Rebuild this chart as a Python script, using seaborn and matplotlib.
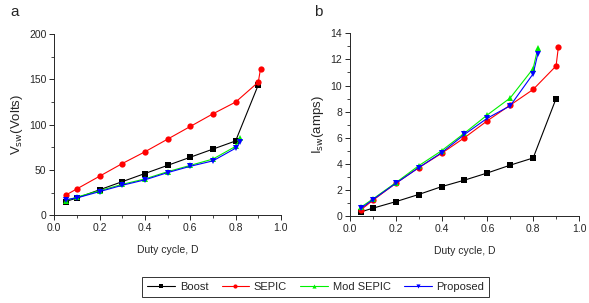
import pandas as pd
import matplotlib.pyplot as plt
import seaborn as sns
from matplotlib.ticker import MultipleLocator

# duty cycle points for each converter
duty_boost = [0.05, 0.1, 0.2, 0.3, 0.4, 0.5, 0.6, 0.7, 0.8, 0.9]
duty_sepic = [0.05, 0.1, 0.2, 0.3, 0.4, 0.5, 0.6, 0.7, 0.8, 0.9, 0.91]
duty_mod = [0.05, 0.1, 0.2, 0.3, 0.4, 0.5, 0.6, 0.7, 0.8, 0.82]
duty_prop = [0.05, 0.1, 0.2, 0.3, 0.4, 0.5, 0.6, 0.7, 0.8, 0.82]

# switch voltage (V)
vsw_boost = [15, 19, 28, 37, 46, 55, 64, 73, 82, 144]
vsw_sepic = [22, 29, 43, 57, 70, 84, 98, 112, 125, 147, 162]
vsw_mod = [16, 20, 27, 34, 40, 48, 55, 62, 76, 85]
vsw_prop = [17, 19, 26, 33, 39, 47, 54, 60, 74, 81]

# switch current (A)
isw_boost = [0.33, 0.6, 1.1, 1.65, 2.25, 2.75, 3.3, 3.9, 4.45, 9.0]
isw_sepic = [0.5, 1.2, 2.5, 3.7, 4.8, 6.0, 7.3, 8.5, 9.7, 11.5, 12.95]
isw_mod = [0.7, 1.3, 2.55, 3.85, 5.0, 6.35, 7.75, 9.05, 11.3, 12.85]
isw_prop = [0.6, 1.25, 2.5, 3.7, 4.85, 6.25, 7.5, 8.45, 10.9, 12.4]

names = ["Boost", "SEPIC", "Mod SEPIC", "Proposed"]
colors = {"Boost": "black", "SEPIC": "#ff0000", "Mod SEPIC": "#00f000", "Proposed": "#0000ff"}
marks = {"Boost": "s", "SEPIC": "o", "Mod SEPIC": "^", "Proposed": "v"}

duties = [duty_boost, duty_sepic, duty_mod, duty_prop]
rows = []
for name, d, v, i in zip(names, duties,
                         [vsw_boost, vsw_sepic, vsw_mod, vsw_prop],
                         [isw_boost, isw_sepic, isw_mod, isw_prop]):
    for dd, vv, ii in zip(d, v, i):
        rows.append({"Converter": name, "D": dd, "Vsw": vv, "Isw": ii})
df = pd.DataFrame(rows)

sns.set_style("ticks")
plt.rcParams['font.family'] = ['Liberation Sans', 'DejaVu Sans']

fig = plt.figure(figsize=(5.89, 3.03), dpi=100)
ax1 = fig.add_axes([0.092, 0.29, 0.385, 0.597])
ax2 = fig.add_axes([0.594, 0.287, 0.389, 0.603])

for ax, col, ylab, ymax, ymaj, ymin in [
        (ax1, "Vsw", r"V$_{\rm sw}$(Volts)", 200, 50, 25),
        (ax2, "Isw", r"I$_{\rm sw}$(amps)", 14, 2, 1)]:
    sns.lineplot(data=df, x="D", y=col, hue="Converter", style="Converter",
                 hue_order=names, style_order=names, palette=colors,
                 markers=marks, dashes=False, estimator=None, sort=True,
                 linewidth=0.8, markersize=4.5, markeredgewidth=0,
                 ax=ax, legend=False)
    ax.set_xlim(0, 1.0)
    ax.set_ylim(0, ymax)
    ax.xaxis.set_major_locator(MultipleLocator(0.2))
    ax.xaxis.set_minor_locator(MultipleLocator(0.1))
    ax.yaxis.set_major_locator(MultipleLocator(ymaj))
    ax.yaxis.set_minor_locator(MultipleLocator(ymin))
    ax.tick_params(which="major", length=3.5, width=0.7, labelsize=7.5, pad=2)
    ax.tick_params(which="minor", length=2, width=0.6)
    ax.set_xlabel("Duty cycle, D", fontsize=7.5, labelpad=9)
    ax.set_ylabel(ylab, fontsize=9.5, labelpad=3)
    for s in ["left", "bottom"]:
        ax.spines[s].set_linewidth(0.7)
    sns.despine(ax=ax)

fig.text(0.017, 0.985, "a", fontsize=11, va="top")
fig.text(0.533, 0.985, "b", fontsize=11, va="top")

handles = [plt.Line2D([], [], color=colors[n], marker=marks[n], markersize=3,
                      markeredgewidth=0, linewidth=0.8) for n in names]
leg = fig.legend(handles, names, loc="center", bbox_to_anchor=(0.536, 0.054),
                 ncol=4, fontsize=8, frameon=True, fancybox=False,
                 handlelength=2.5, columnspacing=1.2, handletextpad=0.4,
                 borderpad=0.45, borderaxespad=0)
leg.get_frame().set_edgecolor("black")
leg.get_frame().set_linewidth(0.7)

fig.savefig("out.png", dpi=100)
